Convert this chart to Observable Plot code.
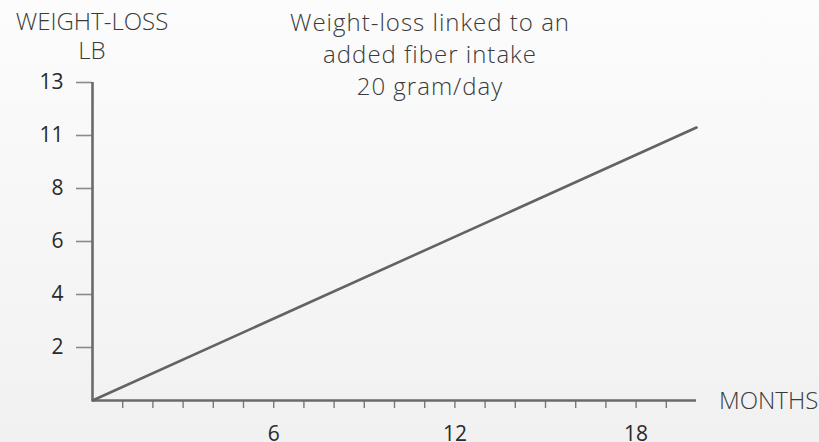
<!DOCTYPE html>
<html>
<head>
<meta charset="utf-8">
<script src="https://cdn.jsdelivr.net/npm/d3@7"></script>
<script src="https://cdn.jsdelivr.net/npm/@observablehq/plot@0.6"></script>
<style>
  html, body { margin: 0; padding: 0; }
  body { width: 819px; height: 442px; overflow: hidden;
    background: linear-gradient(to bottom, #fcfcfc 0%, #f1f1f1 100%);
    font-family: "Open Sans", sans-serif; }
  #wrap { position: relative; width: 819px; height: 442px; }
  #wrap svg { position: absolute; left: 0; top: 0; background: transparent; }
  .lbl { position: absolute; font-weight: 300; color: #3a3a3a; white-space: nowrap; line-height: 26px; }
  .title { left: 130px; width: 600px; text-align: center; font-size: 24px; letter-spacing: 1px; }
  .ylab { left: -8px; width: 200px; text-align: center; font-size: 24px; }
  #xlab { left: 719px; top: 387px; font-size: 24px; }
</style>
</head>
<body>
<div id="wrap">
  <div id="xlab" class="lbl"></div>
</div>
<script>
const titleLines = ["Weight-loss linked to an", "added fiber intake", "20 gram/day"];
const yLabelLines = ["WEIGHT-LOSS", "LB"];
const xLabel = "MONTHS";
const yTicks = [2, 4, 6, 8, 11, 13];
const xTicks = [1, 2, 3, 4, 5, 6, 7, 8, 9, 10, 11, 12, 13, 14, 15, 16, 17, 18, 19];
const xTickLabels = [6, 12, 18];
const months = [0, 20];
const weightLoss = [0, 11.3];

const wrap = document.getElementById("wrap");
titleLines.forEach((t, i) => {
  const el = document.createElement("div");
  el.className = "lbl title";
  el.style.top = (9 + i * 32) + "px";
  el.textContent = t;
  wrap.appendChild(el);
});
yLabelLines.forEach((t, i) => {
  const el = document.createElement("div");
  el.className = "lbl ylab";
  el.style.top = (8 + i * 29) + "px";
  el.textContent = t;
  wrap.appendChild(el);
});
document.getElementById("xlab").textContent = xLabel;

const data = months.map((m, i) => ({month: m, lb: weightLoss[i]}));

// tick labels sit evenly spaced on the axis: piecewise mapping lb -> tick slot
const yDomain = [0, ...yTicks];
const ySlot = d3.scaleLinear().domain(yDomain).range(yDomain.map((d, i) => i));
const slotTicks = yTicks.map(t => ySlot(t));

const chart = Plot.plot({
  width: 819, height: 442,
  marginLeft: 92, marginRight: 123, marginTop: 82, marginBottom: 42,
  style: {background: "transparent", fontFamily: "Open Sans, sans-serif"},
  x: {domain: [0, 20]},
  y: {domain: [0, yDomain.length - 1]},
  marks: [
    Plot.axisY({ticks: slotTicks, tickSize: 16, tickPadding: 13, stroke: "#8a8a8a", strokeWidth: 1.6,
      fill: "#2a2a2a", fontSize: 21, label: null, tickFormat: d => String(yDomain[Math.round(d)])}),
    Plot.axisX({ticks: xTicks, tickSize: 8, tickPadding: 18, stroke: "#7a7a7a", strokeWidth: 1.4,
      fill: "#2a2a2a", fontSize: 21, label: null,
      tickFormat: d => xTickLabels.includes(d) ? String(d) : ""}),
    Plot.ruleX([0], {y1: 0, y2: ySlot(13), stroke: "#6a6a6a", strokeWidth: 2.6}),
    Plot.ruleY([0], {x1: 0, x2: 20, stroke: "#6a6a6a", strokeWidth: 2.6}),
    Plot.line(data, {x: "month", y: d => ySlot(d.lb), stroke: "#636363", strokeWidth: 2.6})
  ]
});
wrap.prepend(chart);
</script>
</body>
</html>
